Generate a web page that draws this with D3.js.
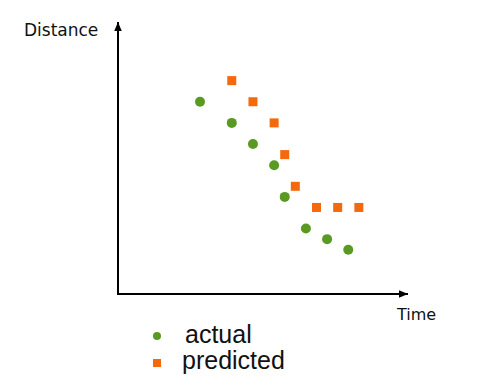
<!DOCTYPE html>
<html><head><meta charset="utf-8">
<script src="https://cdn.jsdelivr.net/npm/d3@7"></script>
<style>html,body{margin:0;padding:0;background:#fff;}</style>
</head><body>
<div id="chart"></div>
<script>
const actualTime = [8, 11, 13, 15, 16, 18, 20, 22];
const actualDist = [18, 16, 14, 12, 9, 6, 5, 4];
const predTime = [11, 13, 15, 16, 17, 19, 21, 23];
const predDist = [20, 18, 16, 13, 10, 8, 8, 8];
const seriesNames = ["actual", "predicted"];
const axisTitles = {x: "Time", y: "Distance"};

const W = 485, H = 392;
const svg = d3.select("#chart").append("svg").attr("width", W).attr("height", H);

const x = d3.scaleLinear().domain([0, 28]).range([115.3, 411.8]);
const y = d3.scaleLinear().domain([0, 26]).range([292, 17.2]);

const green = "#5a9a22", orange = "#f4690c";

// axes with arrow heads
const defs = svg.append("defs");
defs.append("marker").attr("id", "arr").attr("viewBox", "0 0 10 10")
  .attr("refX", 10).attr("refY", 5).attr("markerWidth", 9).attr("markerHeight", 9)
  .attr("markerUnits", "userSpaceOnUse").attr("orient", "auto")
  .append("path").attr("d", "M0,0.8L10,5L0,9.2Z").attr("fill", "#000");

const ox = 118, oy = 294;
svg.append("line").attr("x1", ox).attr("y1", oy + 1).attr("x2", ox).attr("y2", 22)
  .attr("stroke", "#000").attr("stroke-width", 2).attr("marker-end", "url(#arr)");
svg.append("line").attr("x1", ox - 1).attr("y1", oy).attr("x2", 408).attr("y2", oy)
  .attr("stroke", "#000").attr("stroke-width", 2).attr("marker-end", "url(#arr)");

svg.append("text").attr("x", 24).attr("y", 36).text(axisTitles.y)
  .attr("font-family", "DejaVu Sans").attr("font-size", 17).attr("fill", "#111");
svg.append("text").attr("x", 397).attr("y", 320).text(axisTitles.x)
  .attr("font-family", "DejaVu Sans").attr("font-size", 16).attr("fill", "#111");

// data
const actual = actualTime.map((t, i) => ({t, d: actualDist[i]}));
const pred = predTime.map((t, i) => ({t, d: predDist[i]}));

svg.append("g").selectAll("rect").data(pred).join("rect")
  .attr("x", p => x(p.t) - 4.5).attr("y", p => y(p.d) - 4.5)
  .attr("width", 9).attr("height", 9).attr("fill", orange);

svg.append("g").selectAll("circle").data(actual).join("circle")
  .attr("cx", p => x(p.t)).attr("cy", p => y(p.d)).attr("r", 5).attr("fill", green);

// legend
const lg = svg.append("g");
lg.append("circle").attr("cx", 157).attr("cy", 336).attr("r", 4).attr("fill", green);
lg.append("rect").attr("x", 153).attr("y", 359).attr("width", 8).attr("height", 8).attr("fill", orange);
lg.append("text").attr("x", 185).attr("y", 343).text(seriesNames[0])
  .attr("font-family", "Liberation Sans").attr("font-size", 25).attr("fill", "#111");
lg.append("text").attr("x", 182).attr("y", 369).text(seriesNames[1])
  .attr("font-family", "Liberation Sans").attr("font-size", 25).attr("fill", "#111");
</script>
</body></html>
